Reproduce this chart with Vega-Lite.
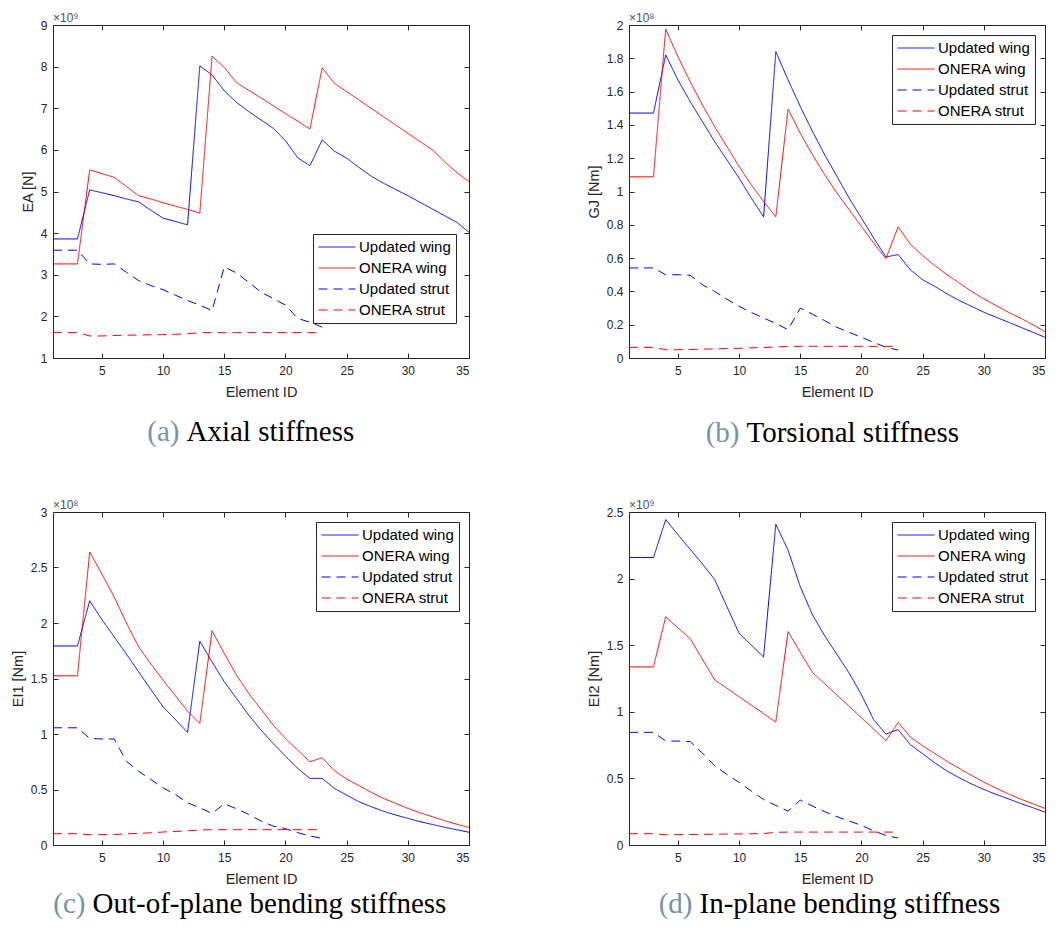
{
  "$schema": "https://vega.github.io/schema/vega-lite/v6.json",
  "padding": {"left": 9, "top": 11, "right": 5, "bottom": 5},
  "config": {
    "view": {"stroke": "#262626", "strokeWidth": 1},
    "font": "Liberation Sans",
    "axis": {"domain": false, "grid": false, "tickColor": "#262626", "tickSize": -5, "labelFont": "Liberation Sans", "labelFontSize": 12, "labelColor": "#262626", "titleFont": "Liberation Sans", "titleFontSize": 14.5, "titleFontWeight": "normal", "titleColor": "#262626", "labelPadding": 11, "titlePadding": 5},
    "axisX": {"labelPadding": 12, "titlePadding": 9},
    "legend": {"title": null, "labelFont": "Liberation Sans", "labelFontSize": 15, "labelColor": "#000000", "symbolType": "stroke", "symbolSize": 1369, "clipHeight": 16, "rowPadding": 5, "padding": 5, "strokeColor": "#262626", "fillColor": "#ffffff", "labelOffset": 3, "orient": "top-right", "offset": 10, "labelLimit": 300},
    "title": {"fontSize": 12, "font": "Liberation Sans", "fontWeight": "normal", "color": "#4d4d4d", "anchor": "start", "frame": "group", "offset": -6}
  },
  "datasets": {
    "a": [
      {"id":1,"Updated wing":3.86,"ONERA wing":3.26,"Updated strut":3.59,"ONERA strut":1.61},
      {"id":2,"Updated wing":3.86,"ONERA wing":3.26,"Updated strut":3.59,"ONERA strut":1.61},
      {"id":3,"Updated wing":3.86,"ONERA wing":3.26,"Updated strut":3.59,"ONERA strut":1.61},
      {"id":4,"Updated wing":5.04,"ONERA wing":5.52,"Updated strut":3.26,"ONERA strut":1.53},
      {"id":5,"Updated wing":4.97,"ONERA wing":5.43,"Updated strut":3.25,"ONERA strut":1.53},
      {"id":6,"Updated wing":4.90,"ONERA wing":5.34,"Updated strut":3.26,"ONERA strut":1.54},
      {"id":7,"Updated wing":4.82,"ONERA wing":5.12,"Updated strut":3.06,"ONERA strut":1.55},
      {"id":8,"Updated wing":4.75,"ONERA wing":4.90,"Updated strut":2.86,"ONERA strut":1.55},
      {"id":9,"Updated wing":4.55,"ONERA wing":4.82,"Updated strut":2.74,"ONERA strut":1.56},
      {"id":10,"Updated wing":4.36,"ONERA wing":4.73,"Updated strut":2.64,"ONERA strut":1.56},
      {"id":11,"Updated wing":4.28,"ONERA wing":4.65,"Updated strut":2.51,"ONERA strut":1.57},
      {"id":12,"Updated wing":4.20,"ONERA wing":4.57,"Updated strut":2.38,"ONERA strut":1.58},
      {"id":13,"Updated wing":8.02,"ONERA wing":4.48,"Updated strut":2.27,"ONERA strut":1.61},
      {"id":14,"Updated wing":7.80,"ONERA wing":8.25,"Updated strut":2.14,"ONERA strut":1.61},
      {"id":15,"Updated wing":7.42,"ONERA wing":7.98,"Updated strut":3.19,"ONERA strut":1.61},
      {"id":16,"Updated wing":7.14,"ONERA wing":7.62,"Updated strut":3.04,"ONERA strut":1.61},
      {"id":17,"Updated wing":6.92,"ONERA wing":7.43,"Updated strut":2.82,"ONERA strut":1.61},
      {"id":18,"Updated wing":6.72,"ONERA wing":7.25,"Updated strut":2.58,"ONERA strut":1.61},
      {"id":19,"Updated wing":6.52,"ONERA wing":7.06,"Updated strut":2.43,"ONERA strut":1.61},
      {"id":20,"Updated wing":6.22,"ONERA wing":6.87,"Updated strut":2.27,"ONERA strut":1.61},
      {"id":21,"Updated wing":5.81,"ONERA wing":6.69,"Updated strut":1.95,"ONERA strut":1.61},
      {"id":22,"Updated wing":5.62,"ONERA wing":6.50,"Updated strut":1.86,"ONERA strut":1.61},
      {"id":23,"Updated wing":6.24,"ONERA wing":7.97,"Updated strut":1.74,"ONERA strut":1.61},
      {"id":24,"Updated wing":5.97,"ONERA wing":7.60},
      {"id":25,"Updated wing":5.80,"ONERA wing":7.40},
      {"id":26,"Updated wing":5.58,"ONERA wing":7.20},
      {"id":27,"Updated wing":5.37,"ONERA wing":7.00},
      {"id":28,"Updated wing":5.20,"ONERA wing":6.80},
      {"id":29,"Updated wing":5.05,"ONERA wing":6.60},
      {"id":30,"Updated wing":4.90,"ONERA wing":6.40},
      {"id":31,"Updated wing":4.74,"ONERA wing":6.20},
      {"id":32,"Updated wing":4.58,"ONERA wing":6.00},
      {"id":33,"Updated wing":4.42,"ONERA wing":5.72},
      {"id":34,"Updated wing":4.26,"ONERA wing":5.46},
      {"id":35,"Updated wing":4.02,"ONERA wing":5.24}
    ],
    "b": [
      {"id":1,"Updated wing":1.471,"ONERA wing":1.088,"Updated strut":0.541,"ONERA strut":0.064},
      {"id":2,"Updated wing":1.471,"ONERA wing":1.088,"Updated strut":0.541,"ONERA strut":0.064},
      {"id":3,"Updated wing":1.471,"ONERA wing":1.088,"Updated strut":0.541,"ONERA strut":0.064},
      {"id":4,"Updated wing":1.82,"ONERA wing":1.975,"Updated strut":0.50,"ONERA strut":0.05},
      {"id":5,"Updated wing":1.67,"ONERA wing":1.81,"Updated strut":0.50,"ONERA strut":0.05},
      {"id":6,"Updated wing":1.54,"ONERA wing":1.66,"Updated strut":0.497,"ONERA strut":0.051},
      {"id":7,"Updated wing":1.42,"ONERA wing":1.52,"Updated strut":0.44,"ONERA strut":0.053},
      {"id":8,"Updated wing":1.30,"ONERA wing":1.39,"Updated strut":0.40,"ONERA strut":0.055},
      {"id":9,"Updated wing":1.19,"ONERA wing":1.27,"Updated strut":0.353,"ONERA strut":0.057},
      {"id":10,"Updated wing":1.08,"ONERA wing":1.15,"Updated strut":0.31,"ONERA strut":0.058},
      {"id":11,"Updated wing":0.96,"ONERA wing":1.04,"Updated strut":0.273,"ONERA strut":0.061},
      {"id":12,"Updated wing":0.848,"ONERA wing":0.94,"Updated strut":0.24,"ONERA strut":0.063},
      {"id":13,"Updated wing":1.84,"ONERA wing":0.848,"Updated strut":0.208,"ONERA strut":0.066},
      {"id":14,"Updated wing":1.67,"ONERA wing":1.495,"Updated strut":0.17,"ONERA strut":0.07},
      {"id":15,"Updated wing":1.51,"ONERA wing":1.35,"Updated strut":0.30,"ONERA strut":0.07},
      {"id":16,"Updated wing":1.36,"ONERA wing":1.22,"Updated strut":0.263,"ONERA strut":0.07},
      {"id":17,"Updated wing":1.22,"ONERA wing":1.10,"Updated strut":0.224,"ONERA strut":0.07},
      {"id":18,"Updated wing":1.09,"ONERA wing":0.99,"Updated strut":0.184,"ONERA strut":0.07},
      {"id":19,"Updated wing":0.96,"ONERA wing":0.89,"Updated strut":0.154,"ONERA strut":0.07},
      {"id":20,"Updated wing":0.84,"ONERA wing":0.79,"Updated strut":0.124,"ONERA strut":0.07},
      {"id":21,"Updated wing":0.72,"ONERA wing":0.69,"Updated strut":0.094,"ONERA strut":0.07},
      {"id":22,"Updated wing":0.607,"ONERA wing":0.597,"Updated strut":0.064,"ONERA strut":0.07},
      {"id":23,"Updated wing":0.621,"ONERA wing":0.788,"Updated strut":0.048,"ONERA strut":0.07},
      {"id":24,"Updated wing":0.529,"ONERA wing":0.683},
      {"id":25,"Updated wing":0.47,"ONERA wing":0.615},
      {"id":26,"Updated wing":0.43,"ONERA wing":0.555},
      {"id":27,"Updated wing":0.385,"ONERA wing":0.50},
      {"id":28,"Updated wing":0.345,"ONERA wing":0.45},
      {"id":29,"Updated wing":0.31,"ONERA wing":0.40},
      {"id":30,"Updated wing":0.275,"ONERA wing":0.355},
      {"id":31,"Updated wing":0.245,"ONERA wing":0.315},
      {"id":32,"Updated wing":0.215,"ONERA wing":0.275},
      {"id":33,"Updated wing":0.185,"ONERA wing":0.24},
      {"id":34,"Updated wing":0.155,"ONERA wing":0.20},
      {"id":35,"Updated wing":0.124,"ONERA wing":0.158}
    ],
    "c": [
      {"id":1,"Updated wing":1.793,"ONERA wing":1.524,"Updated strut":1.056,"ONERA strut":0.102},
      {"id":2,"Updated wing":1.793,"ONERA wing":1.524,"Updated strut":1.056,"ONERA strut":0.102},
      {"id":3,"Updated wing":1.793,"ONERA wing":1.524,"Updated strut":1.056,"ONERA strut":0.102},
      {"id":4,"Updated wing":2.20,"ONERA wing":2.64,"Updated strut":0.96,"ONERA strut":0.093},
      {"id":5,"Updated wing":2.03,"ONERA wing":2.44,"Updated strut":0.955,"ONERA strut":0.093},
      {"id":6,"Updated wing":1.875,"ONERA wing":2.235,"Updated strut":0.955,"ONERA strut":0.095},
      {"id":7,"Updated wing":1.72,"ONERA wing":2.00,"Updated strut":0.754,"ONERA strut":0.10},
      {"id":8,"Updated wing":1.56,"ONERA wing":1.785,"Updated strut":0.665,"ONERA strut":0.105},
      {"id":9,"Updated wing":1.40,"ONERA wing":1.63,"Updated strut":0.59,"ONERA strut":0.11},
      {"id":10,"Updated wing":1.245,"ONERA wing":1.485,"Updated strut":0.515,"ONERA strut":0.117},
      {"id":11,"Updated wing":1.13,"ONERA wing":1.345,"Updated strut":0.455,"ONERA strut":0.122},
      {"id":12,"Updated wing":1.014,"ONERA wing":1.206,"Updated strut":0.38,"ONERA strut":0.128},
      {"id":13,"Updated wing":1.836,"ONERA wing":1.095,"Updated strut":0.335,"ONERA strut":0.135},
      {"id":14,"Updated wing":1.65,"ONERA wing":1.93,"Updated strut":0.284,"ONERA strut":0.138},
      {"id":15,"Updated wing":1.47,"ONERA wing":1.725,"Updated strut":0.371,"ONERA strut":0.138},
      {"id":16,"Updated wing":1.32,"ONERA wing":1.53,"Updated strut":0.326,"ONERA strut":0.138},
      {"id":17,"Updated wing":1.17,"ONERA wing":1.365,"Updated strut":0.275,"ONERA strut":0.138},
      {"id":18,"Updated wing":1.035,"ONERA wing":1.224,"Updated strut":0.216,"ONERA strut":0.138},
      {"id":19,"Updated wing":0.915,"ONERA wing":1.08,"Updated strut":0.17,"ONERA strut":0.138},
      {"id":20,"Updated wing":0.80,"ONERA wing":0.96,"Updated strut":0.147,"ONERA strut":0.138},
      {"id":21,"Updated wing":0.69,"ONERA wing":0.855,"Updated strut":0.111,"ONERA strut":0.138},
      {"id":22,"Updated wing":0.60,"ONERA wing":0.75,"Updated strut":0.081,"ONERA strut":0.138},
      {"id":23,"Updated wing":0.60,"ONERA wing":0.786,"Updated strut":0.06,"ONERA strut":0.138},
      {"id":24,"Updated wing":0.51,"ONERA wing":0.669},
      {"id":25,"Updated wing":0.45,"ONERA wing":0.594},
      {"id":26,"Updated wing":0.39,"ONERA wing":0.535},
      {"id":27,"Updated wing":0.345,"ONERA wing":0.475},
      {"id":28,"Updated wing":0.305,"ONERA wing":0.42},
      {"id":29,"Updated wing":0.27,"ONERA wing":0.375},
      {"id":30,"Updated wing":0.24,"ONERA wing":0.33},
      {"id":31,"Updated wing":0.21,"ONERA wing":0.29},
      {"id":32,"Updated wing":0.185,"ONERA wing":0.255},
      {"id":33,"Updated wing":0.16,"ONERA wing":0.22},
      {"id":34,"Updated wing":0.137,"ONERA wing":0.187},
      {"id":35,"Updated wing":0.115,"ONERA wing":0.158}
    ],
    "d": [
      {"id":1,"Updated wing":2.158,"ONERA wing":1.337,"Updated strut":0.846,"ONERA strut":0.085},
      {"id":2,"Updated wing":2.158,"ONERA wing":1.337,"Updated strut":0.846,"ONERA strut":0.085},
      {"id":3,"Updated wing":2.158,"ONERA wing":1.337,"Updated strut":0.846,"ONERA strut":0.085},
      {"id":4,"Updated wing":2.443,"ONERA wing":1.714,"Updated strut":0.781,"ONERA strut":0.077},
      {"id":5,"Updated wing":2.33,"ONERA wing":1.63,"Updated strut":0.78,"ONERA strut":0.078},
      {"id":6,"Updated wing":2.22,"ONERA wing":1.55,"Updated strut":0.776,"ONERA strut":0.079},
      {"id":7,"Updated wing":2.11,"ONERA wing":1.395,"Updated strut":0.69,"ONERA strut":0.08},
      {"id":8,"Updated wing":1.994,"ONERA wing":1.24,"Updated strut":0.596,"ONERA strut":0.081},
      {"id":9,"Updated wing":1.79,"ONERA wing":1.177,"Updated strut":0.529,"ONERA strut":0.082},
      {"id":10,"Updated wing":1.589,"ONERA wing":1.113,"Updated strut":0.471,"ONERA strut":0.083},
      {"id":11,"Updated wing":1.50,"ONERA wing":1.05,"Updated strut":0.404,"ONERA strut":0.084},
      {"id":12,"Updated wing":1.412,"ONERA wing":0.987,"Updated strut":0.342,"ONERA strut":0.086},
      {"id":13,"Updated wing":2.408,"ONERA wing":0.923,"Updated strut":0.297,"ONERA strut":0.095},
      {"id":14,"Updated wing":2.213,"ONERA wing":1.602,"Updated strut":0.254,"ONERA strut":0.097},
      {"id":15,"Updated wing":1.939,"ONERA wing":1.447,"Updated strut":0.337,"ONERA strut":0.097},
      {"id":16,"Updated wing":1.727,"ONERA wing":1.295,"Updated strut":0.292,"ONERA strut":0.097},
      {"id":17,"Updated wing":1.57,"ONERA wing":1.21,"Updated strut":0.25,"ONERA strut":0.097},
      {"id":18,"Updated wing":1.43,"ONERA wing":1.125,"Updated strut":0.212,"ONERA strut":0.097},
      {"id":19,"Updated wing":1.29,"ONERA wing":1.04,"Updated strut":0.18,"ONERA strut":0.097},
      {"id":20,"Updated wing":1.128,"ONERA wing":0.955,"Updated strut":0.147,"ONERA strut":0.097},
      {"id":21,"Updated wing":0.94,"ONERA wing":0.87,"Updated strut":0.105,"ONERA strut":0.097},
      {"id":22,"Updated wing":0.833,"ONERA wing":0.783,"Updated strut":0.072,"ONERA strut":0.097},
      {"id":23,"Updated wing":0.866,"ONERA wing":0.92,"Updated strut":0.052,"ONERA strut":0.097},
      {"id":24,"Updated wing":0.753,"ONERA wing":0.81},
      {"id":25,"Updated wing":0.685,"ONERA wing":0.745},
      {"id":26,"Updated wing":0.616,"ONERA wing":0.686},
      {"id":27,"Updated wing":0.555,"ONERA wing":0.628},
      {"id":28,"Updated wing":0.504,"ONERA wing":0.574},
      {"id":29,"Updated wing":0.458,"ONERA wing":0.522},
      {"id":30,"Updated wing":0.417,"ONERA wing":0.472},
      {"id":31,"Updated wing":0.38,"ONERA wing":0.427},
      {"id":32,"Updated wing":0.347,"ONERA wing":0.384},
      {"id":33,"Updated wing":0.312,"ONERA wing":0.345},
      {"id":34,"Updated wing":0.28,"ONERA wing":0.31},
      {"id":35,"Updated wing":0.247,"ONERA wing":0.275}
    ]
  },
  "columns": 2,
  "spacing": {"row": 50, "column": 112},
  "resolve": {
    "scale": {"color": "independent", "strokeDash": "independent", "strokeWidth": "independent"},
    "legend": {"color": "independent", "strokeDash": "independent", "strokeWidth": "independent"}
  },
  "concat": [
    {
      "width": 416, "height": 333,
      "data": {"name": "a"},
      "transform": [{"fold": ["Updated wing", "ONERA wing", "Updated strut", "ONERA strut"], "as": ["series", "v"]}, {"filter": "isValid(datum.v)"}],
      "title": {"text": "×10⁹"},
      "layer": [
        {"mark": {"type": "line"},
         "encoding": {
           "x": {"field": "id", "type": "quantitative", "scale": {"domain": [1, 35], "nice": false, "zero": false}, "axis": {"values": [5, 10, 15, 20, 25, 30, 35], "title": "Element ID"}},
           "y": {"field": "v", "type": "quantitative", "scale": {"domain": [1, 9], "nice": false, "zero": false}, "axis": {"values": [1, 2, 3, 4, 5, 6, 7, 8, 9], "format": "~g", "title": "EA [N]"}},
           "color": {"field": "series", "type": "nominal", "scale": {"domain": ["Updated wing", "ONERA wing", "Updated strut", "ONERA strut"], "range": ["#0000ff", "#ff0000", "#0000ff", "#ff0000"]}, "legend": {"orient": "none", "legendX": 260, "legendY": 209}},
           "strokeDash": {"field": "series", "type": "nominal", "scale": {"domain": ["Updated wing", "ONERA wing", "Updated strut", "ONERA strut"], "range": [[1, 0], [1, 0], [9, 6], [9, 6]]}},
           "strokeWidth": {"field": "series", "type": "nominal", "scale": {"domain": ["Updated wing", "ONERA wing", "Updated strut", "ONERA strut"], "range": [1, 1, 2.4, 2.4]}}
         }},
        {"mark": {"type": "point", "opacity": 0},
         "encoding": {
           "x": {"field": "id", "type": "quantitative", "scale": {"domain": [1, 35], "nice": false, "zero": false}, "axis": {"orient": "top", "values": [5, 10, 15, 20, 25, 30, 35], "labels": false, "title": "Axial stiffness", "titleX": 133, "titleY": 415, "titleAngle": 0, "titleAlign": "left", "titleBaseline": "alphabetic", "titleFont": "Liberation Serif", "titleFontSize": 29, "titleColor": "#000000"}},
           "y": {"field": "v", "type": "quantitative", "scale": {"domain": [1, 9], "nice": false, "zero": false}, "axis": {"orient": "right", "values": [1, 2, 3, 4, 5, 6, 7, 8, 9], "labels": false, "title": "(a)", "titleX": -290, "titleY": 415, "titleAngle": 0, "titleAlign": "right", "titleBaseline": "alphabetic", "titleFont": "Liberation Serif", "titleFontSize": 29, "titleColor": "#7792ad"}}
         }}
      ],
      "resolve": {"axis": {"x": "independent", "y": "independent"}}
    },
    {
      "width": 416, "height": 333,
      "data": {"name": "b"},
      "transform": [{"fold": ["Updated wing", "ONERA wing", "Updated strut", "ONERA strut"], "as": ["series", "v"]}, {"filter": "isValid(datum.v)"}],
      "title": {"text": "×10⁸"},
      "layer": [
        {"mark": {"type": "line"},
         "encoding": {
           "x": {"field": "id", "type": "quantitative", "scale": {"domain": [1, 35], "nice": false, "zero": false}, "axis": {"values": [5, 10, 15, 20, 25, 30, 35], "title": "Element ID"}},
           "y": {"field": "v", "type": "quantitative", "scale": {"domain": [0, 2], "nice": false}, "axis": {"values": [0, 0.2, 0.4, 0.6, 0.8, 1, 1.2, 1.4, 1.6, 1.8, 2], "format": "~g", "title": "GJ [Nm]"}},
           "color": {"field": "series", "type": "nominal", "scale": {"domain": ["Updated wing", "ONERA wing", "Updated strut", "ONERA strut"], "range": ["#0000ff", "#ff0000", "#0000ff", "#ff0000"]}},
           "strokeDash": {"field": "series", "type": "nominal", "scale": {"domain": ["Updated wing", "ONERA wing", "Updated strut", "ONERA strut"], "range": [[1, 0], [1, 0], [9, 6], [9, 6]]}},
           "strokeWidth": {"field": "series", "type": "nominal", "scale": {"domain": ["Updated wing", "ONERA wing", "Updated strut", "ONERA strut"], "range": [1, 1, 2.4, 2.4]}}
         }},
        {"mark": {"type": "point", "opacity": 0},
         "encoding": {
           "x": {"field": "id", "type": "quantitative", "scale": {"domain": [1, 35], "nice": false, "zero": false}, "axis": {"orient": "top", "values": [5, 10, 15, 20, 25, 30, 35], "labels": false, "title": "Torsional stiffness", "titleX": 117, "titleY": 416, "titleAngle": 0, "titleAlign": "left", "titleBaseline": "alphabetic", "titleFont": "Liberation Serif", "titleFontSize": 29, "titleColor": "#000000"}},
           "y": {"field": "v", "type": "quantitative", "scale": {"domain": [0, 2], "nice": false}, "axis": {"orient": "right", "values": [0, 0.2, 0.4, 0.6, 0.8, 1, 1.2, 1.4, 1.6, 1.8, 2], "labels": false, "title": "(b)", "titleX": -306, "titleY": 416, "titleAngle": 0, "titleAlign": "right", "titleBaseline": "alphabetic", "titleFont": "Liberation Serif", "titleFontSize": 29, "titleColor": "#7792ad"}}
         }}
      ],
      "resolve": {"axis": {"x": "independent", "y": "independent"}}
    },
    {
      "width": 416, "height": 333,
      "data": {"name": "c"},
      "transform": [{"fold": ["Updated wing", "ONERA wing", "Updated strut", "ONERA strut"], "as": ["series", "v"]}, {"filter": "isValid(datum.v)"}],
      "title": {"text": "×10⁸"},
      "layer": [
        {"mark": {"type": "line"},
         "encoding": {
           "x": {"field": "id", "type": "quantitative", "scale": {"domain": [1, 35], "nice": false, "zero": false}, "axis": {"values": [5, 10, 15, 20, 25, 30, 35], "title": "Element ID"}},
           "y": {"field": "v", "type": "quantitative", "scale": {"domain": [0, 3], "nice": false}, "axis": {"values": [0, 0.5, 1, 1.5, 2, 2.5, 3], "format": "~g", "title": "EI1 [Nm]"}},
           "color": {"field": "series", "type": "nominal", "scale": {"domain": ["Updated wing", "ONERA wing", "Updated strut", "ONERA strut"], "range": ["#0000ff", "#ff0000", "#0000ff", "#ff0000"]}},
           "strokeDash": {"field": "series", "type": "nominal", "scale": {"domain": ["Updated wing", "ONERA wing", "Updated strut", "ONERA strut"], "range": [[1, 0], [1, 0], [9, 6], [9, 6]]}},
           "strokeWidth": {"field": "series", "type": "nominal", "scale": {"domain": ["Updated wing", "ONERA wing", "Updated strut", "ONERA strut"], "range": [1, 1, 2.4, 2.4]}}
         }},
        {"mark": {"type": "point", "opacity": 0},
         "encoding": {
           "x": {"field": "id", "type": "quantitative", "scale": {"domain": [1, 35], "nice": false, "zero": false}, "axis": {"orient": "top", "values": [5, 10, 15, 20, 25, 30, 35], "labels": false, "title": "Out-of-plane bending stiffness", "titleX": 39, "titleY": 400, "titleAngle": 0, "titleAlign": "left", "titleBaseline": "alphabetic", "titleFont": "Liberation Serif", "titleFontSize": 29, "titleColor": "#000000"}},
           "y": {"field": "v", "type": "quantitative", "scale": {"domain": [0, 3], "nice": false}, "axis": {"orient": "right", "values": [0, 0.5, 1, 1.5, 2, 2.5, 3], "labels": false, "title": "(c)", "titleX": -384, "titleY": 400, "titleAngle": 0, "titleAlign": "right", "titleBaseline": "alphabetic", "titleFont": "Liberation Serif", "titleFontSize": 29, "titleColor": "#7792ad"}}
         }}
      ],
      "resolve": {"axis": {"x": "independent", "y": "independent"}}
    },
    {
      "width": 416, "height": 333,
      "data": {"name": "d"},
      "transform": [{"fold": ["Updated wing", "ONERA wing", "Updated strut", "ONERA strut"], "as": ["series", "v"]}, {"filter": "isValid(datum.v)"}],
      "title": {"text": "×10⁹"},
      "layer": [
        {"mark": {"type": "line"},
         "encoding": {
           "x": {"field": "id", "type": "quantitative", "scale": {"domain": [1, 35], "nice": false, "zero": false}, "axis": {"values": [5, 10, 15, 20, 25, 30, 35], "title": "Element ID"}},
           "y": {"field": "v", "type": "quantitative", "scale": {"domain": [0, 2.5], "nice": false}, "axis": {"values": [0, 0.5, 1, 1.5, 2, 2.5], "format": "~g", "title": "EI2 [Nm]"}},
           "color": {"field": "series", "type": "nominal", "scale": {"domain": ["Updated wing", "ONERA wing", "Updated strut", "ONERA strut"], "range": ["#0000ff", "#ff0000", "#0000ff", "#ff0000"]}},
           "strokeDash": {"field": "series", "type": "nominal", "scale": {"domain": ["Updated wing", "ONERA wing", "Updated strut", "ONERA strut"], "range": [[1, 0], [1, 0], [9, 6], [9, 6]]}},
           "strokeWidth": {"field": "series", "type": "nominal", "scale": {"domain": ["Updated wing", "ONERA wing", "Updated strut", "ONERA strut"], "range": [1, 1, 2.4, 2.4]}}
         }},
        {"mark": {"type": "point", "opacity": 0},
         "encoding": {
           "x": {"field": "id", "type": "quantitative", "scale": {"domain": [1, 35], "nice": false, "zero": false}, "axis": {"orient": "top", "values": [5, 10, 15, 20, 25, 30, 35], "labels": false, "title": "In-plane bending stiffness", "titleX": 70, "titleY": 400, "titleAngle": 0, "titleAlign": "left", "titleBaseline": "alphabetic", "titleFont": "Liberation Serif", "titleFontSize": 29, "titleColor": "#000000"}},
           "y": {"field": "v", "type": "quantitative", "scale": {"domain": [0, 2.5], "nice": false}, "axis": {"orient": "right", "values": [0, 0.5, 1, 1.5, 2, 2.5], "labels": false, "title": "(d)", "titleX": -353, "titleY": 400, "titleAngle": 0, "titleAlign": "right", "titleBaseline": "alphabetic", "titleFont": "Liberation Serif", "titleFontSize": 29, "titleColor": "#7792ad"}}
         }}
      ],
      "resolve": {"axis": {"x": "independent", "y": "independent"}}
    }
  ]
}
